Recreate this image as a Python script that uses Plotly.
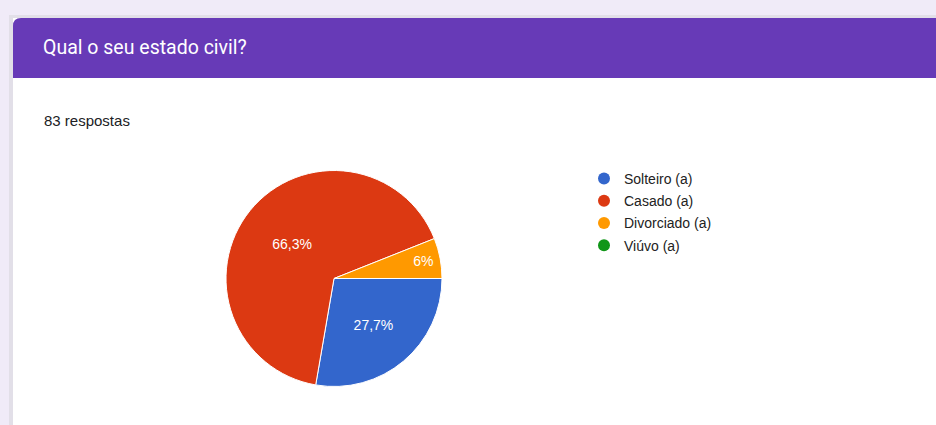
import plotly.graph_objects as go

categories = ["Solteiro (a)", "Casado (a)", "Divorciado (a)", "Viúvo (a)"]
counts = [23, 55, 5, 0]
colors = ["#3366cc", "#dc3912", "#ff9900", "#109618"]
title_text = "Qual o seu estado civil?"
responses_text = "83 respostas"

W, H = 936, 425

def px(x):
    return x / W

def py(y):
    return 1 - y / H

fig = go.Figure()

fig.add_trace(go.Pie(
    labels=categories,
    values=counts,
    marker=dict(colors=colors, line=dict(color="white", width=1)),
    sort=False,
    direction="clockwise",
    rotation=90,
    textinfo="percent",
    texttemplate="%{percent:.1~%}",
    textposition="inside",
    insidetextorientation="horizontal",
    textfont=dict(color="white", size=14, family="Liberation Sans, Arial"),
    showlegend=False,
    hoverinfo="label+percent",
    domain=dict(x=[px(226), px(442)], y=[py(387), py(170)]),
))

for name, col in zip(categories, colors):
    fig.add_trace(go.Scatter(
        x=[None], y=[None], mode="markers", name=name,
        legendgroup=name,
        marker=dict(color=col, size=13, symbol="circle"),
    ))

shapes = [
    # card border
    dict(type="rect", xref="paper", yref="paper", x0=px(9), x1=px(W + 5), y0=py(H + 5), y1=py(15),
         fillcolor="#e2dfe8", line=dict(width=0), layer="below"),
    # white card
    dict(type="rect", xref="paper", yref="paper", x0=px(13), x1=px(W + 5), y0=py(H + 5), y1=py(18),
         fillcolor="white", line=dict(width=0), layer="below"),
    # purple header
    dict(type="path", xref="paper", yref="paper",
         path=(f"M {px(13)},{py(78)} L {px(13)},{py(26)} Q {px(13)},{py(18)} {px(21)},{py(18)} "
               f"L {px(W + 5)},{py(18)} L {px(W + 5)},{py(78)} Z"),
         fillcolor="#673ab7", line=dict(width=0), layer="below"),
]

annotations = [
    dict(text=title_text, xref="paper", yref="paper", x=px(41), y=py(47), xanchor="left", yanchor="middle",
         showarrow=False, font=dict(color="white", size=19.5, family="Roboto, Arial")),
    dict(text=responses_text, xref="paper", yref="paper", x=px(42), y=py(120), xanchor="left", yanchor="middle",
         showarrow=False, font=dict(color="#202124", size=15, family="Liberation Sans, Arial")),
]

fig.update_layout(
    width=W, height=H,
    margin=dict(l=0, r=0, t=0, b=0),
    paper_bgcolor="#f0ebf8",
    plot_bgcolor="rgba(0,0,0,0)",
    separators=",.",
    shapes=shapes,
    annotations=annotations,
    xaxis=dict(visible=False),
    yaxis=dict(visible=False),
    showlegend=True,
    legend=dict(
        x=px(584), y=py(163), xanchor="left", yanchor="top",
        font=dict(color="#222222", size=14, family="Liberation Sans, Arial"),
        bgcolor="rgba(0,0,0,0)",
        traceorder="grouped",
        tracegroupgap=1,
        itemsizing="constant",
    ),
)

fig.write_html("out.html", config={"displayModeBar": False},
               post_script="document.body.style.margin='0';document.body.style.overflow='hidden';")
